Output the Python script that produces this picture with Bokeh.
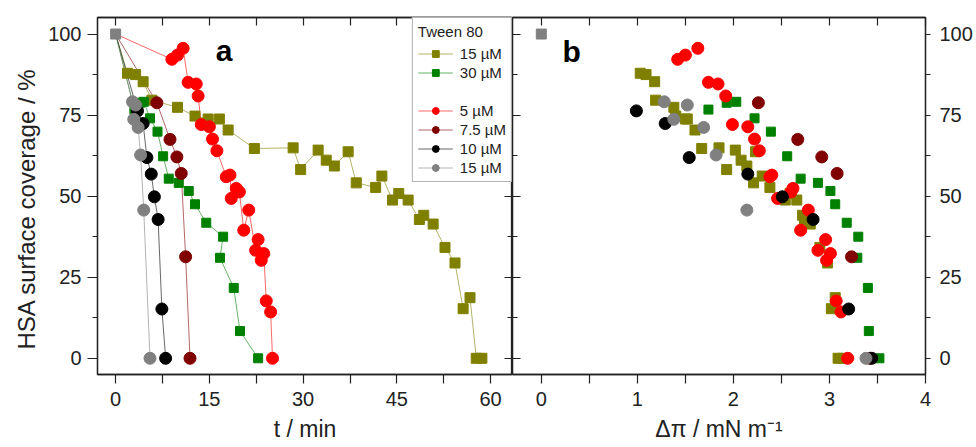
from bokeh.plotting import figure
from bokeh.layouts import row
from bokeh.models import Range1d, LinearAxis, FixedTicker, Legend, LegendItem, Label, Title
from bokeh.embed import file_html
from bokeh.resources import INLINE

FONT = "Liberation Sans"
INK = "#222222"

# ---------------- data ----------------
start_t = [0.0]
start_cov = [100.0]
start_dpi = [0.0]

# Tween 80, 15 uM
t80_15_t = [1.9, 3.2, 4.4, 5.8, 9.9, 12.7, 14.8, 16.6, 18.0, 22.2, 28.4, 29.6, 32.4, 33.7, 35.0,
            37.2, 38.5, 41.6, 42.6, 44.3, 45.3, 46.8, 48.6, 49.3, 50.8, 52.7, 54.3, 55.6, 56.7, 57.7, 58.6]
t80_15_cov = [87.9, 87.5, 85.3, 79.6, 77.4, 74.7, 73.8, 73.8, 70.4, 64.7, 64.9, 58.2, 64.2, 61.1, 59.3,
              63.7, 54.1, 52.7, 56.2, 48.8, 50.8, 48.8, 42.8, 44.1, 41.4, 34.2, 29.4, 15.3, 18.7, 0.0, 0.0]
t80_15_dpi = [1.03, 1.09, 1.18, 1.19, 1.38, 1.40, 1.50, 1.52, 1.60, 1.67, 1.85, 1.93, 2.02, 2.08, 2.14,
              2.23, 2.21, 2.38, 2.30, 2.54, 2.59, 2.66, 2.74, 2.72, 2.80, 2.90, 2.98, 3.02, 3.06, 3.09, 3.14]

# Tween 80, 30 uM
t80_30_t = [3.0, 3.9, 4.5, 5.5, 6.7, 7.6, 8.5, 10.1, 11.7, 12.7, 14.5, 17.2, 16.7, 18.9, 19.9, 22.8]
t80_30_cov = [76.7, 78.8, 79.1, 74.0, 69.9, 62.3, 55.4, 54.1, 51.6, 47.5, 41.8, 37.5, 31.0, 21.7, 8.4, 0.0]
t80_30_dpi = [1.74, 1.93, 2.03, 2.22, 2.39, 2.56, 2.70, 2.88, 3.01, 3.06, 3.18, 3.30, 3.29, 3.40, 3.41, 3.52]

# Tween 20, 5 uM
t20_5_t = [9.0, 9.9, 10.8, 11.6, 12.9, 13.2, 13.7, 15.0, 15.5, 16.2, 17.7, 18.3, 18.5, 19.3, 19.8, 20.5,
           21.3, 22.4, 22.8, 23.3, 23.7, 24.1, 24.8, 25.1]
t20_5_cov = [92.2, 93.5, 95.6, 85.1, 84.6, 80.9, 72.1, 71.4, 67.6, 64.0, 56.0, 56.5, 49.3, 52.4, 51.3, 39.5,
             45.7, 33.3, 36.6, 30.2, 32.3, 17.7, 14.3, 0.0]
t20_5_dpi = [1.42, 1.50, 1.63, 1.74, 1.84, 1.92, 1.99, 2.15, 2.22, 2.27, 2.38, 2.40, 2.46, 2.62, 2.60, 2.70,
             2.78, 2.88, 2.96, 2.97, 3.01, 3.07, 3.12, 3.19]

# Tween 20, 7.5 uM
t20_75_t = [6.6, 8.7, 9.8, 10.5, 11.2, 11.9]
t20_75_cov = [78.8, 67.5, 62.1, 57.0, 31.3, 0.0]
t20_75_dpi = [2.26, 2.67, 2.92, 3.08, 3.23, 3.42]

# Tween 20, 10 uM
t20_10_t = [3.5, 4.4, 5.0, 5.7, 6.2, 6.8, 7.4, 8.0]
t20_10_cov = [76.3, 72.4, 61.9, 56.8, 49.8, 42.8, 15.2, 0.0]
t20_10_dpi = [0.99, 1.29, 1.54, 2.15, 2.51, 2.83, 3.20, 3.44]

# Tween 20, 15 uM
t20_15_t = [2.7, 2.9, 3.2, 3.6, 4.0, 4.5, 5.5]
t20_15_cov = [79.1, 73.7, 78.1, 71.2, 62.7, 45.7, 0.0]
t20_15_dpi = [1.28, 1.38, 1.52, 1.69, 1.82, 2.14, 3.38]

labels = ["15 µM", "30 µM", "5 µM", "7.5 µM", "10 µM", "15 µM"]
colors = ["#808000", "#008000", "#ff0000", "#800000", "#000000", "#808080"]
markers = ["square", "square", "circle", "circle", "circle", "circle"]
sizes = [10, 9, 12, 12, 12, 12]
series_t = [t80_15_t, t80_30_t, t20_5_t, t20_75_t, t20_10_t, t20_15_t]
series_cov = [t80_15_cov, t80_30_cov, t20_5_cov, t20_75_cov, t20_10_cov, t20_15_cov]
series_dpi = [t80_15_dpi, t80_30_dpi, t20_5_dpi, t20_75_dpi, t20_10_dpi, t20_15_dpi]

y_ticks = [0, 25, 50, 75, 100]
y_minor = [12.5, 37.5, 62.5, 87.5]
t_ticks = [0, 15, 30, 45, 60]
t_minor = [7.5, 22.5, 37.5, 52.5]
dpi_ticks = [0, 1, 2, 3, 4]
dpi_minor = [0.5, 1.5, 2.5, 3.5]

# ---------------- helpers ----------------
def style_axis(ax, ticks, minor, t_in, t_out, m_in, m_out, show_labels):
    ax.ticker = FixedTicker(ticks=ticks, minor_ticks=minor)
    ax.major_tick_in = t_in
    ax.major_tick_out = t_out
    ax.minor_tick_in = m_in
    ax.minor_tick_out = m_out
    ax.axis_line_color = INK
    ax.axis_line_width = 1.3
    ax.major_tick_line_color = INK
    ax.major_tick_line_width = 1.2
    ax.minor_tick_line_color = INK
    ax.minor_tick_line_width = 1.2
    if show_labels:
        ax.major_label_text_font = FONT
        ax.major_label_text_font_size = "20px"
        ax.major_label_text_color = INK
    else:
        ax.major_label_text_font_size = "1px"
        ax.major_label_text_color = None
        ax.major_label_standoff = 0


def base_fig(xr, width, left, right, yloc):
    p = figure(width=width, height=447, x_range=xr, y_range=Range1d(-5.0, 105.1),
               output_backend="svg", toolbar_location=None, y_axis_location=yloc,
               min_border_left=left, min_border_right=right, min_border_top=17,
               min_border_bottom=73)
    p.grid.visible = False
    p.outline_line_color = INK
    p.outline_line_width = 1.3
    p.background_fill_color = "white"
    p.border_fill_color = "white"
    return p

# ---------------- panel a ----------------
pa = base_fig(Range1d(-2.9, 63.5), 512, 97, 0, "left")
xa = pa.xaxis[0]
style_axis(xa, t_ticks, t_minor, 0, 9, 0, 9, True)
xa.axis_label = "t / min"
xa.axis_label_text_font = FONT
xa.axis_label_text_font_size = "23px"
xa.axis_label_text_font_style = "normal"
xa.axis_label_text_color = INK
xa.axis_label_standoff = 7
xa.major_label_standoff = 8

ya = pa.yaxis[0]
style_axis(ya, y_ticks, y_minor, 0, 10, 0, 5, True)
ya.major_label_standoff = 6

ytitle = Title(text="HSA surface coverage / %", align="left", offset=25, standoff=11,
               text_font=FONT, text_font_size="24px", text_font_style="normal", text_color=INK)
pa.add_layout(ytitle, "left")

top_a = LinearAxis()
style_axis(top_a, t_ticks, t_minor, 8, 0, 8, 0, False)
pa.add_layout(top_a, "above")
right_a = LinearAxis()
style_axis(right_a, y_ticks, y_minor, 8, 0, 5, 0, False)
pa.add_layout(right_a, "right")

line_rs = []
for t, c, col in zip(series_t, series_cov, colors):
    line_rs.append(pa.line(start_t + t, start_cov + c, line_color=col, line_width=0.8, line_alpha=0.75))
mark_rs = []
for t, c, col, m, s in zip(series_t, series_cov, colors, markers, sizes):
    mark_rs.append(pa.scatter(t, c, marker=m, size=s, fill_color=col, line_color=col))
pa.scatter(start_t, start_cov, marker="square", size=10, fill_color="#808080", line_color="#808080")

blank = pa.scatter(x=[], y=[], marker="circle", size=1, fill_alpha=0, line_alpha=0)

items = [LegendItem(label=labels[0], renderers=[line_rs[0], mark_rs[0]]),
         LegendItem(label=labels[1], renderers=[line_rs[1], mark_rs[1]]),
         LegendItem(label=" ", renderers=[blank])]
for i in range(2, 6):
    items.append(LegendItem(label=labels[i], renderers=[line_rs[i], mark_rs[i]]))

legend = Legend(items=items, location="top_right", title="Tween 80")
legend.margin = 0
legend.padding = 5
legend.spacing = 2
legend.glyph_width = 35
legend.glyph_height = 17
legend.label_height = 17
legend.label_standoff = 7
legend.title_standoff = 5
legend.label_text_font = FONT
legend.label_text_font_size = "15px"
legend.label_text_color = INK
legend.title_text_font = FONT
legend.title_text_font_size = "15px"
legend.title_text_font_style = "normal"
legend.title_text_color = INK
legend.border_line_color = "#666666"
legend.border_line_width = 1
legend.background_fill_alpha = 1.0
pa.add_layout(legend)

pa.add_layout(Label(x=48.2, y=82.0, text="Tween 20", text_baseline="middle",
                    text_font=FONT, text_font_size="15px", text_color=INK))
pa.add_layout(Label(x=16.0, y=94.9, text="a", text_baseline="alphabetic",
                    text_font=FONT, text_font_size="30px", text_font_style="bold", text_color="black"))

# ---------------- panel b ----------------
pb = base_fig(Range1d(-0.30, 4.0), 464, 0, 51, "right")
xb = pb.xaxis[0]
style_axis(xb, dpi_ticks, dpi_minor, 0, 9, 0, 9, True)
xb.axis_label = "Δπ / mN m⁻¹"
xb.axis_label_text_font = FONT
xb.axis_label_text_font_size = "23px"
xb.axis_label_text_font_style = "normal"
xb.axis_label_text_color = INK
xb.axis_label_standoff = 7
xb.major_label_standoff = 8

yb = pb.yaxis[0]
style_axis(yb, y_ticks, y_minor, 0, 5, 0, 5, True)
yb.major_label_standoff = 9

top_b = LinearAxis()
style_axis(top_b, dpi_ticks, dpi_minor, 8, 0, 8, 0, False)
pb.add_layout(top_b, "above")
left_b = LinearAxis()
style_axis(left_b, y_ticks, y_minor, 8, 0, 5, 0, False)
pb.add_layout(left_b, "left")

for d, c, col, m, s in zip(series_dpi, series_cov, colors, markers, sizes):
    pb.scatter(d, c, marker=m, size=s, fill_color=col, line_color=col)
pb.scatter(start_dpi, start_cov, marker="square", size=10, fill_color="#808080", line_color="#808080")

pb.add_layout(Label(x=0.22, y=94.6, text="b", text_baseline="alphabetic",
                    text_font=FONT, text_font_size="30px", text_font_style="bold", text_color="black"))

layout = row(pa, pb)
open("out.html", "w").write(file_html(layout, INLINE))
